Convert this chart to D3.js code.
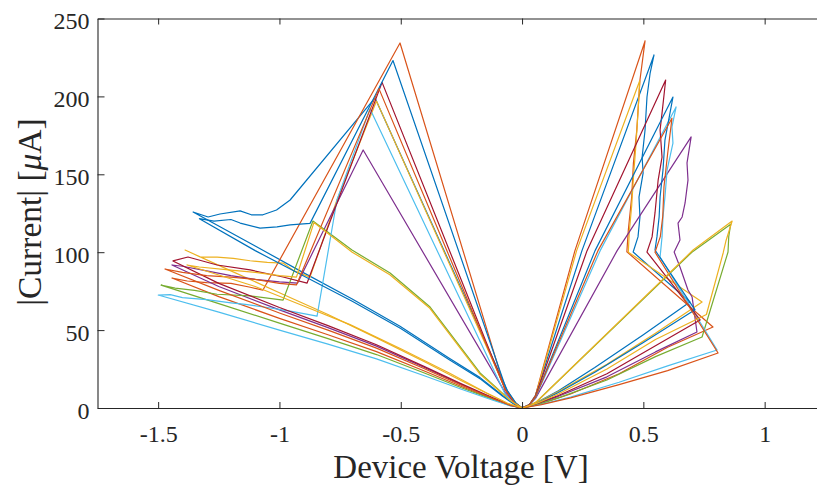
<!DOCTYPE html>
<html><head><meta charset="utf-8">
<script src="https://cdn.jsdelivr.net/npm/d3@7"></script>
<style>html,body{margin:0;padding:0;background:#fff;}svg{display:block;}</style>
</head><body>
<svg id="chart" width="817" height="485"></svg>
<script>
// ---- axis / tick data ----
const xTicks = [-1.5, -1, -0.5, 0, 0.5, 1];
const xTickLabels = ["-1.5", "-1", "-0.5", "0", "0.5", "1"];
const yTicks = [0, 50, 100, 150, 200, 250];
const xDomain = [-1.75, 1.25];
const yDomain = [0, 250];

// ---- curves: [voltage V, |current| uA] ----
// negative sweeps
const negBlue1 = [[0,0],[-0.03,2.5],[-0.08,8],[-0.173,19.5],[-0.3,32],[-0.503,52.5],[-0.7,70],[-0.915,88],[-1.1,104],[-1.356,125.8],
  [-1.294,122.6],[-1.245,124.5],[-1.162,126.5],[-1.116,124],[-1.068,124],[-1.012,127.1],[-0.956,133.5],
  [-0.606,199],[-0.06,11],[-0.025,3],[0,0]];
const negOrange1 = [[0,0],[-0.05,1.7],[-0.12,5.8],[-0.25,13.8],[-0.4,23.6],[-0.6,36.2],[-0.8,47],[-1.0,57.5],[-1.25,71.5],[-1.443,83.4],
  [-1.38,81.5],[-1.3,80.5],[-1.2,80],[-1.12,77.5],[-1.068,75.7],[-0.503,234.3],[-0.07,12],[-0.03,3],[0,0]];
const negYellowA = [[0,0],[-0.05,2.2],[-0.12,7.5],[-0.25,17.5],[-0.4,29.5],[-0.6,45],[-0.8,60],[-1.0,74],[-1.2,88],[-1.389,101.4],
  [-1.327,97],[-1.257,96.9],[-1.19,96],[-1.121,94.5],[-1.05,93.5],[-0.985,93],[-0.94,88],[-0.874,84],
  [-0.763,133.5],[-0.6,197],[-0.065,11],[-0.025,3],[0,0]];
const negPurple = [[0,0],[-0.05,1.9],[-0.12,6.3],[-0.25,15.1],[-0.4,25.8],[-0.6,39.7],[-0.8,51.6],[-1.0,63],[-1.25,78],[-1.443,91.8],
  [-1.4,91],[-1.3,88],[-1.2,85],[-1.1,82.5],[-1.0,81],[-0.925,80.2],[-0.655,165.6],[-0.07,10],[-0.03,3],[0,0]];
const negGreen = [[0,0],[-0.05,1.6],[-0.12,5.5],[-0.25,13],[-0.4,22.3],[-0.6,34.3],[-0.8,44.5],[-1.0,54.5],[-1.25,67],[-1.488,78.9],
  [-1.43,77],[-1.35,75.5],[-1.257,73],[-1.121,72],[-0.985,69.3],[-0.862,120],
  [-0.701,101.4],[-0.544,86.6],[-0.379,64.8],[-0.173,22.5],[-0.049,5],[0,0]];
const negLightBlue = [[0,0],[-0.05,1.5],[-0.12,5],[-0.25,12],[-0.4,20.5],[-0.6,31.5],[-0.8,41],[-1.0,50],[-1.25,61.5],[-1.5,72.5],
  [-1.45,72.8],[-1.4,70.8],[-1.3,69.5],[-1.2,67.5],[-1.14,66.5],[-1.05,64.5],[-0.95,62],[-0.845,59],
  [-0.763,133.5],[-0.627,192],[-0.07,9],[-0.03,2.5],[0,0]];
const negDarkRed = [[0,0],[-0.05,1.9],[-0.12,6.5],[-0.25,15.5],[-0.4,26.4],[-0.6,40.6],[-0.8,52.9],[-1.0,64.5],[-1.25,80],[-1.439,94.4],
  [-1.377,96.9],[-1.257,91.8],[-1.121,88.6],[-0.985,84.1],[-0.886,80.2],[-0.577,209],[-0.07,12],[-0.03,3],[0,0]];
const negBlue2 = [[0,0],[-0.03,2],[-0.08,7.5],[-0.17,18.5],[-0.3,31],[-0.5,51],[-0.7,68.5],[-0.91,85.5],[-1.1,101],[-1.33,121.5],
  [-1.27,120],[-1.2,121],[-1.162,118.7],[-1.08,115.5],[-1.01,116.2],[-0.956,117.5],[-0.874,118.5],
  [-0.532,223],[-0.065,12],[-0.025,3],[0,0]];
const negOrange2 = [[0,0],[-0.05,1.8],[-0.12,6.1],[-0.25,14.6],[-0.4,25],[-0.6,38.4],[-0.8,50],[-1.0,61],[-1.25,75.5],[-1.472,89.2],
  [-1.4,87],[-1.3,85],[-1.2,84],[-1.1,82.5],[-1.0,80],[-0.93,79],[-0.59,205],[-0.07,12],[-0.03,3],[0,0]];
const negYellowB = [[0,0],[-0.06,3],[-0.15,10],[-0.3,22.5],[-0.5,38],[-0.709,53.5],[-0.9,65.5],[-1.1,78],[-1.381,91.8],
  [-1.33,90.5],[-1.2,88.5],[-1.1,87],[-1.0,85],[-0.93,84],[-0.858,119],
  [-0.7,100],[-0.545,85.5],[-0.38,64],[-0.175,22],[-0.05,5],[0,0]];

// positive sweeps
const posBlue1 = [[0,0],[0.03,2],[0.055,8],[0.247,101],[0.544,226.6],
  [0.528,215],[0.515,199.6],[0.507,178.4],[0.495,161],[0.499,150.8],[0.482,135.4],[0.486,122.6],[0.478,109.8],[0.458,100.1],
  [0.692,68],[0.5,47],[0.3,26],[0.15,11],[0.06,3.5],[0,0]];
const posOrange1 = [[0,0],[0.03,2],[0.055,8],[0.218,101],[0.507,235.6],
  [0.486,210.5],[0.473,178.4],[0.459,157],[0.452,135.6],[0.438,114],[0.432,100.3],
  [0.787,52],[0.6,39],[0.4,22],[0.2,9],[0.08,3],[0.03,1],[0,0]];
const posYellow2 = [[0,0],[0.03,2],[0.055,7.5],[0.225,101],[0.485,210],
  [0.478,190],[0.47,170],[0.46,150],[0.452,130],[0.442,113],[0.438,100],
  [0.742,68],[0.55,48],[0.35,28],[0.15,10.5],[0.06,3.5],[0,0]];
const posPurple = [[0,0],[0.03,2],[0.055,6],[0.392,101],[0.697,174],
  [0.680,157.3],[0.684,146.3],[0.672,131.6],[0.660,122.6],[0.643,118.7],[0.651,107.8],[0.627,100.1],
  [0.651,90.5],[0.684,75.7],[0.701,71.2],[0.721,48.8],[0.55,36],[0.35,20],[0.15,7.5],[0.06,2.5],[0,0]];
const posGreen = [[0,0],[0.03,1.5],[0.06,4],[0.70,100],[0.86,118],
  [0.852,110],[0.849,100.1],[0.742,45.6],[0.55,33],[0.35,18],[0.15,6.5],[0.06,2],[0,0]];
const posLightBlue = [[0,0],[0.03,2],[0.055,6.5],[0.322,101],[0.635,193.2],
  [0.618,180.4],[0.622,170],[0.598,152.8],[0.589,135.4],[0.581,122.6],[0.577,109.8],[0.569,96.9],
  [0.804,37.2],[0.6,27],[0.4,16.5],[0.2,7],[0.08,2.4],[0,0]];
const posDarkRed = [[0,0],[0.03,2],[0.055,7.5],[0.268,101],[0.592,210.5],
  [0.577,189.3],[0.569,178.4],[0.577,161],[0.561,146.3],[0.548,125.2],[0.536,109.8],[0.515,100.1],
  [0.734,56.5],[0.55,40],[0.35,22],[0.15,8],[0.06,2.8],[0,0]];
const posBlue2 = [[0,0],[0.03,2],[0.055,7],[0.301,101],[0.622,199.6],
  [0.602,182.9],[0.589,172],[0.581,152.8],[0.569,135.4],[0.565,122.6],[0.556,109.8],[0.548,101.4],
  [0.713,63],[0.5,42],[0.3,23],[0.15,10],[0.06,3],[0,0]];
const posOrange2 = [[0,0],[0.03,2],[0.055,7],[0.313,101],[0.618,186],
  [0.6,163],[0.585,142],[0.58,123],[0.57,110],[0.548,100],
  [0.808,35.3],[0.6,24],[0.4,15],[0.2,6.5],[0.08,2.2],[0,0]];
const posYellowBig = [[0,0],[0.03,1.5],[0.06,4],[0.705,101.4],[0.866,120],
  [0.84,107],[0.829,99.5],[0.76,60],[0.55,44],[0.35,25],[0.15,9],[0.06,3],[0,0]];

// MATLAB default colour order
const palette = {blue:"#0072BD", orange:"#D95319", yellow:"#EDB120", purple:"#7E2F8E",
  green:"#77AC30", lightblue:"#4DBEEE", darkred:"#A2142F"};
const series = [
  [negBlue1,"blue"],[negOrange1,"orange"],[negYellowA,"yellow"],[negPurple,"purple"],[negGreen,"green"],
  [negLightBlue,"lightblue"],[negDarkRed,"darkred"],[negBlue2,"blue"],[negOrange2,"orange"],[negYellowB,"yellow"],
  [posBlue1,"blue"],[posOrange1,"orange"],[posYellow2,"yellow"],[posPurple,"purple"],[posGreen,"green"],
  [posLightBlue,"lightblue"],[posDarkRed,"darkred"],[posBlue2,"blue"],[posOrange2,"orange"],[posYellowBig,"yellow"]
];

// ---- drawing ----
const svg = d3.select("#chart");
const L = 97.5, R = 825.3, T = 18.5, B = 408;
const x = d3.scaleLinear().domain(xDomain).range([L, R]);
const y = d3.scaleLinear().domain(yDomain).range([B, T]);
const axisColor = "#262626";
const font = "'Liberation Serif','Times New Roman',serif";

svg.append("defs").append("clipPath").attr("id","clip")
  .append("rect").attr("x",L).attr("y",T).attr("width",R-L).attr("height",B-T);

const line = d3.line().x(d => x(d[0])).y(d => y(d[1]));
const g = svg.append("g").attr("clip-path","url(#clip)");
series.forEach(([pts, c]) => {
  g.append("path").attr("d", line(pts)).attr("fill","none")
    .attr("stroke", palette[c]).attr("stroke-width",1.2).attr("stroke-linejoin","round");
});

function styleAxis(sel){
  sel.select(".domain").attr("stroke",axisColor).attr("stroke-width",1.1);
  sel.selectAll(".tick line").attr("stroke",axisColor).attr("stroke-width",1);
  sel.selectAll("text").attr("fill",axisColor).style("font-family",font).style("font-size","24px");
}
const xb = svg.append("g").attr("transform",`translate(0,${B})`)
  .call(d3.axisBottom(x).tickValues(xTicks).tickFormat((d,i)=>xTickLabels[i]).tickSizeInner(-6).tickSizeOuter(0).tickPadding(17));
styleAxis(xb);
const xt = svg.append("g").attr("transform",`translate(0,${T})`)
  .call(d3.axisTop(x).tickValues(xTicks).tickFormat("").tickSizeInner(-6).tickSizeOuter(0));
styleAxis(xt);
const yl = svg.append("g").attr("transform",`translate(${L},0)`)
  .call(d3.axisLeft(y).tickValues(yTicks).tickSizeInner(-7).tickSizeOuter(0).tickPadding(8));
styleAxis(yl);
yl.selectAll("text").attr("dy","0.42em");
const yr = svg.append("g").attr("transform",`translate(${R},0)`)
  .call(d3.axisRight(y).tickValues(yTicks).tickFormat("").tickSizeInner(-7).tickSizeOuter(0));
styleAxis(yr);

svg.append("text").attr("x",461).attr("y",478).attr("text-anchor","middle")
  .style("font-family",font).style("font-size","33px").attr("fill",axisColor)
  .text("Device Voltage [V]");

const ylab = svg.append("text").attr("transform","translate(41,212) rotate(-90)").attr("text-anchor","middle")
  .style("font-family",font).style("font-size","33.5px").attr("fill",axisColor);
ylab.append("tspan").text("|Current| [");
ylab.append("tspan").style("font-style","italic").text("\u03BC");
ylab.append("tspan").text("A]");
</script>
</body></html>
